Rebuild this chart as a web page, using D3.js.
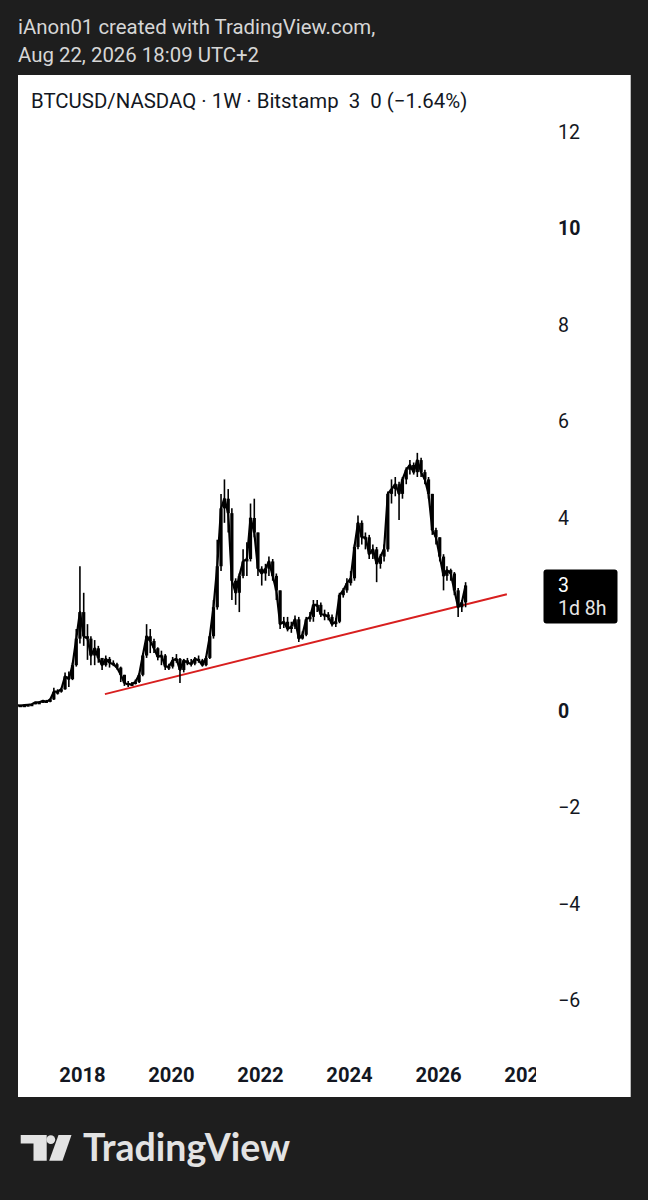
<!DOCTYPE html>
<html><head><meta charset="utf-8">
<script src="https://cdn.jsdelivr.net/npm/d3@7"></script>
<style>html,body{margin:0;padding:0;background:#1e1e1e;} svg{display:block}</style>
</head><body>
<svg id="c" width="648" height="1200"></svg>
<script>
// ---- data (monthly, starting Jul 2016) ----
const startYear = 2016, startMonth = 6; // July (0-based)
const closes = [
  0.12,0.11,0.12,0.13,0.14,0.18,
  0.18,0.21,0.19,0.24,0.40,0.40,0.45,0.72,0.66,0.95,1.50,2.05,
  1.55,1.50,1.15,1.30,1.10,0.95,1.08,1.00,0.97,0.90,0.75,0.58,
  0.55,0.56,0.60,0.75,1.15,1.55,1.45,1.30,1.12,1.15,0.92,0.92,
  1.05,1.08,0.85,1.05,1.00,0.98,1.08,1.05,0.95,1.10,1.55,2.15,
  3.00,4.20,4.40,4.10,2.70,2.45,2.80,3.10,3.15,4.00,3.70,2.95,
  2.85,2.95,3.10,2.80,2.50,1.80,1.85,1.70,1.75,1.90,1.50,1.58,
  1.90,1.95,2.20,2.20,2.00,2.00,1.95,1.80,1.85,2.40,2.50,2.65,
  2.75,3.40,3.90,3.60,3.60,3.25,3.35,3.05,3.20,3.35,4.50,4.60,
  4.70,4.50,4.80,5.00,5.10,4.95,5.20,4.95,4.80,4.50,3.75,3.60,
  3.20,2.80,2.92,2.85,2.50,2.15,2.25,2.60
];
const highs = [
  0.13,0.13,0.13,0.14,0.15,0.19,
  0.20,0.22,0.23,0.26,0.48,0.45,0.48,0.80,0.82,1.00,1.70,3.00,
  2.45,1.80,1.55,1.47,1.35,1.10,1.15,1.12,1.05,1.00,0.92,0.75,
  0.62,0.60,0.65,0.78,1.20,1.80,1.70,1.50,1.32,1.25,1.18,0.98,
  1.12,1.18,1.10,1.08,1.10,1.08,1.12,1.15,1.08,1.14,1.60,2.30,
  3.55,4.50,4.80,4.60,4.20,2.75,2.85,3.35,3.50,4.30,4.40,3.70,
  3.00,3.05,3.20,3.15,2.85,2.50,1.95,1.95,1.85,1.98,1.95,1.65,
  1.95,2.05,2.30,2.30,2.25,2.10,2.05,2.00,1.92,2.45,2.55,2.75,
  2.90,3.45,4.05,3.95,3.70,3.65,3.45,3.40,3.25,3.45,4.55,4.80,
  4.85,4.75,4.85,5.05,5.20,5.15,5.35,5.25,5.00,4.85,4.50,3.80,
  3.60,3.25,3.00,2.95,2.88,2.55,2.30,2.67
];
const lows = [
  0.11,0.10,0.11,0.12,0.13,0.14,
  0.16,0.17,0.17,0.18,0.23,0.34,0.38,0.44,0.50,0.64,0.92,1.40,
  1.35,1.06,0.95,0.95,1.00,0.85,0.92,0.90,0.93,0.86,0.60,0.52,
  0.50,0.52,0.55,0.58,0.72,1.10,1.20,1.20,1.05,0.95,0.85,0.85,
  0.88,1.00,0.58,0.80,0.95,0.92,0.95,1.00,0.92,0.93,1.08,1.50,
  2.10,2.90,3.90,3.70,2.30,2.20,2.05,2.75,2.80,3.10,3.60,2.80,
  2.60,2.70,2.80,2.70,2.30,1.70,1.72,1.65,1.62,1.70,1.43,1.48,
  1.55,1.85,1.85,2.05,1.95,1.88,1.88,1.75,1.74,1.82,2.35,2.45,
  2.60,2.70,3.35,3.45,3.35,3.15,3.15,2.67,2.95,3.10,3.30,4.30,
  4.45,3.96,4.40,4.70,4.90,4.90,4.85,4.85,4.70,4.40,3.65,3.45,
  3.10,2.50,2.70,2.70,2.40,1.95,2.05,2.15
];
const yTickValues = [12,10,8,6,4,0,-2,-4,-6];
const boldTicks = [10,0];
const xTickYears = [2018,2020,2022,2024,2026,2028];
const trendDates = ["2018-07-08","2027-07-20"];
const trendValues = [0.35,2.42];
const lastPriceText = "3";
const countdownText = "1d 8h";
const headerLines = ["iAnon01 created with TradingView.com,","Aug 22, 2026 18:09 UTC+2"];
const titleText = "BTCUSD/NASDAQ · 1W · Bitstamp\u00a0\u00a03\u00a0\u00a00 (−1.64%)";
const brandText = "TradingView";

// ---- build ----
const data = closes.map((c,i)=>({
  date: new Date(Date.UTC(startYear, startMonth+i, 15)),
  open: i===0 ? c : closes[i-1],
  close: c, high: highs[i], low: lows[i]
}));

const svg = d3.select("#c");
const x = d3.scaleUtc().domain([new Date(Date.UTC(2018,0,1)), new Date(Date.UTC(2028,0,1))]).range([82,527]);
const y = d3.scaleLinear().domain([0,12]).range([711,132]);

// header
svg.selectAll("text.hdr").data(headerLines).join("text").attr("class","hdr")
  .attr("x",18).attr("y",(d,i)=>34+i*28)
  .attr("fill","#d6d6d6").attr("font-family","Roboto, sans-serif").attr("font-size",20.4)
  .text(d=>d);

// panel
svg.append("rect").attr("x",18).attr("y",75).attr("width",612.7).attr("height",1022).attr("fill","#ffffff");

const defs = svg.append("defs");
defs.append("clipPath").attr("id","plotclip").append("rect").attr("x",18).attr("y",75).attr("width",515).attr("height",980);

const plot = svg.append("g").attr("clip-path","url(#plotclip)");

// trendline
plot.append("path").datum(trendDates.map((d,i)=>({date:new Date(d+"T00:00:00Z"), v:trendValues[i]})))
  .attr("d", d3.line().x(d=>x(d.date)).y(d=>y(d.v)))
  .attr("stroke","#d81f1f").attr("stroke-width",2).attr("fill","none");

// close line
plot.append("path").datum(data)
  .attr("d", d3.line().x(d=>x(d.date)).y(d=>y(d.close)))
  .attr("stroke","#000").attr("stroke-width",2.2).attr("fill","none").attr("stroke-linejoin","round");

// wicks
plot.selectAll("line.wick").data(data).join("line").attr("class","wick")
  .attr("x1",d=>x(d.date)).attr("x2",d=>x(d.date))
  .attr("y1",d=>y(d.high)).attr("y2",d=>y(d.low))
  .attr("stroke","#000").attr("stroke-width",1.6);

// bodies
plot.selectAll("rect.body").data(data).join("rect").attr("class","body")
  .attr("x",d=>x(d.date)-1.6).attr("width",3.2)
  .attr("y",d=>y(Math.max(d.open,d.close)))
  .attr("height",d=>Math.max(2, Math.abs(y(d.open)-y(d.close))))
  .attr("fill","#000");

// title
svg.append("text").attr("x",31).attr("y",108).attr("fill","#131722")
  .attr("font-family","Roboto, sans-serif").attr("font-size",20.4)
  .text(titleText);

// y axis
const yAxis = svg.append("g").attr("transform","translate(555,0)")
  .call(d3.axisRight(y).tickValues(yTickValues).tickSize(0).tickPadding(3));
yAxis.select(".domain").remove();
yAxis.selectAll("text").attr("fill","#131722").attr("font-family","Roboto, sans-serif").attr("font-size",19.5)
  .attr("font-weight",d=>boldTicks.includes(d)?700:400);

// x axis
defs.append("clipPath").attr("id","xclip").append("rect").attr("x",18).attr("y",1050).attr("width",518).attr("height",47);
const xAxis = svg.append("g").attr("clip-path","url(#xclip)").append("g").attr("transform","translate(0,1060)")
  .call(d3.axisBottom(x).tickValues(xTickYears.map(yr=>new Date(Date.UTC(yr,0,1)))).tickFormat(d3.utcFormat("%Y")).tickSize(0).tickPadding(0));
xAxis.select(".domain").remove();
xAxis.selectAll("text").attr("fill","#131722").attr("font-family","Roboto, sans-serif").attr("font-size",20.2).attr("font-weight",700).attr("dy","1.1em");

// price badge
const last = data[data.length-1];
const py = y(last.close);
svg.append("rect").attr("x",543.5).attr("y",py-16).attr("width",74).attr("height",54).attr("rx",3).attr("fill","#000");
svg.append("text").attr("x",558).attr("y",py+6.5).attr("fill","#fff").attr("font-family","Roboto, sans-serif").attr("font-size",19.5).text(lastPriceText);
svg.append("text").attr("x",558).attr("y",py+29.5).attr("fill","#e6e6e6").attr("font-family","Roboto, sans-serif").attr("font-size",19.5).text(countdownText);

// brand
const logo = svg.append("g").attr("fill","#e3e3e3");
logo.append("path").attr("d","M20.7,1135 H46.7 V1160.7 H33.5 V1143.5 H20.7 Z");
logo.append("circle").attr("cx",50.8).attr("cy",1139.6).attr("r",4.4);
logo.append("path").attr("d","M58.5,1135 H71.5 L62.5,1160.7 H49.2 Z");
svg.append("text").attr("x",83).attr("y",1161).attr("fill","#e3e3e3")
  .attr("font-family","Lato, sans-serif").attr("font-weight",700).attr("font-size",37.5).text(brandText);
</script>
</body></html>
